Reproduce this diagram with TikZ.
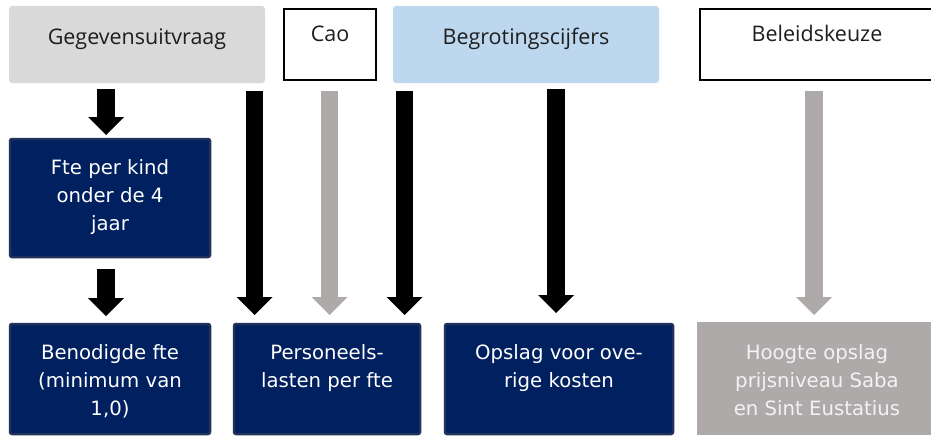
\documentclass[tikz,border=0pt]{standalone}
\usepackage{fontspec}
\setmainfont{DejaVu Sans}
\newfontfamily\topfont{Open Sans}
\usetikzlibrary{arrows.meta}
\definecolor{navy}{RGB}{0,32,96}
\definecolor{navyedge}{RGB}{32,50,90}
\definecolor{lgray}{RGB}{217,217,217}
\definecolor{lblue}{RGB}{189,215,238}
\definecolor{mgray}{RGB}{174,170,170}
\definecolor{paletext}{RGB}{242,242,242}
\definecolor{toptext}{RGB}{30,30,30}
% #1 height, #2 width, #3 top pad, #4 text
\newcommand{\lowtxt}[4]{\parbox[c][#1][t]{#2}{\centering\fontsize{19.7}{28}\selectfont\vspace*{#3}\strut #4\par}}
\newcommand{\toptxt}[4]{\parbox[c][#1][t]{#2}{\centering\topfont\fontsize{21.5}{26}\selectfont\vspace*{#3}\strut #4\par}}
\tikzset{
  basebox/.style={inner sep=0pt, outer sep=0pt, anchor=north west},
  navybox/.style={basebox, draw=navyedge, line width=2.5pt, fill=navy, text=white, rounded corners=2pt},
  graybox/.style={basebox, fill=mgray, text=paletext},
  lightbox/.style={basebox, rounded corners=3pt, text=toptext},
  framebox/.style={basebox, draw=black, line width=2pt, fill=white, text=toptext},
  blackarr/.style={draw=black, line width=17.5pt, -{Triangle[width=36pt,length=18pt,line width=0pt]}},
  grayarr/.style={draw=mgray, line width=17.5pt, -{Triangle[width=36pt,length=18pt,line width=0pt]}}
}
\begin{document}
\begin{tikzpicture}[x=1pt,y=-1pt]
\useasboundingbox (0,0) rectangle (931,436);
\clip (0,0) rectangle (931,436);
% top row
\node[lightbox, fill=lgray] (geg) at (9,6) {\toptxt{77pt}{256pt}{20.8pt}{Gegevensuitvraag}};
\node[framebox] (cao) at (284,9) {\toptxt{71pt}{92pt}{14.8pt}{Cao}};
\node[lightbox, fill=lblue] (beg) at (393,6) {\toptxt{77pt}{266pt}{20.8pt}{Begrotingscijfers}};
\node[framebox] (bel) at (700,9) {\toptxt{71pt}{234pt}{14.8pt}{Beleidskeuze}};
% middle
\node[navybox] (fte) at (10,139) {\lowtxt{118pt}{200pt}{16pt}{Fte per kind\\ onder de 4\\ jaar}};
% bottom row
\node[navybox] (ben) at (10,324) {\lowtxt{110pt}{200pt}{15.4pt}{Benodigde fte\\ (minimum van\\ 1,0)}};
\node[navybox] (per) at (234,324) {\lowtxt{110pt}{186pt}{15.4pt}{Personeels-\\ lasten per fte}};
\node[navybox] (ops) at (445,324) {\lowtxt{110pt}{228pt}{15.4pt}{Opslag voor ove-\\ rige kosten}};
\node[graybox] (hoo) at (697,322) {\lowtxt{113pt}{240pt}{17.4pt}{Hoogte opslag\\ prijsniveau Saba\\ en Sint Eustatius}};
% arrow start points
\coordinate (a1) at (106,89);
\coordinate (c1) at (254.5,91);
\coordinate (c2) at (329.5,91);
\coordinate (c3) at (404.5,91);
\coordinate (d1) at (556,89);
\coordinate (e1) at (814,91);
% arrows
\draw[blackarr, shorten >=4pt] (a1) -- (a1 |- fte.north);
\draw[blackarr, shorten <=12pt, shorten >=8pt] (a1 |- fte.south) -- (a1 |- ben.north);
\draw[blackarr, shorten >=9pt] (c1) -- (c1 |- per.north);
\draw[grayarr, shorten >=9pt] (c2) -- (c2 |- per.north);
\draw[blackarr, shorten >=9pt] (c3) -- (c3 |- per.north);
\draw[blackarr, shorten >=11pt] (d1) -- (d1 |- ops.north);
\draw[grayarr, shorten >=7pt] (e1) -- (e1 |- hoo.north);
\end{tikzpicture}
\end{document}
